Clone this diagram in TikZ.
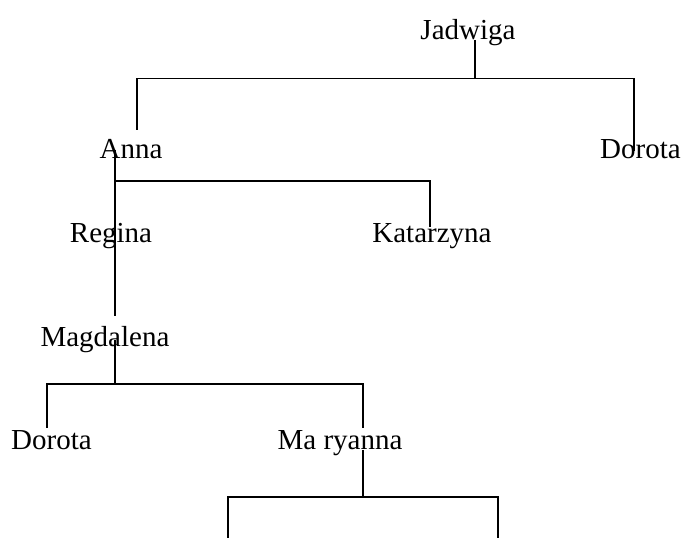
\documentclass[tikz,border=0pt]{standalone}
\usepackage{fontspec}
\setmainfont{Liberation Serif}
\usepackage{tikz}
\tikzstyle{person} = [
	anchor=base,
	inner sep=2pt,
	text=black,
	font=\fontsize{21.75}{26}\selectfont
]
\tikzstyle{branch} = [line width=1.1pt]

\begin{document}
\begin{tikzpicture}[x=0.75pt, y=-0.75pt]
    \useasboundingbox (0, 0) rectangle (686, 538);
    \node [person] at (468, 40) (jadwiga) {Jadwiga};
    \node [person] at (131, 159) (anna) {Anna};
    \node [person] at (640.5, 159) (dorota A) {Dorota};
    \node [person] at (111, 243) (regina) {Regina};
    \node [person] at (432, 243) (katarzyna) {Katarzyna};
    \node [person] at (105, 347) (magdalena) {Magdalena};
    \node [person] at (51.5, 450) (dorota B) {Dorota};
    \node [person] at (340, 450) (maryanna) {Ma ryanna};
    \coordinate (fork A) at (475, 78.5);
    \coordinate (A) at (137, 130);
    \coordinate (B) at (634, 151);
    \coordinate (fork B) at (115, 181);
    \coordinate (C) at (430, 227);
    \coordinate (D) at (115, 316);
    \coordinate (fork C) at (115, 384);
    \coordinate (E) at (47, 428);
    \coordinate (F) at (363, 428);
    \coordinate (fork D) at (363, 497);
    \coordinate (G) at (228, 538);
    \coordinate (H) at (498, 538);
    \draw [branch] (jadwiga.base -| fork A) to (fork A);
    \draw [branch] (A) |- (fork A) -| (B);
    \draw [branch] (anna.center -| fork B) to (D);
    \draw [branch] (fork B) -| (C);
    \draw [branch] (magdalena.center -| fork C) to (fork C);
    \draw [branch] (E) |- (fork C) -| (F);
    \draw [branch] (maryanna.base -| fork D) to (fork D);
    \draw [branch] (G) |- (fork D) -| (H);
\end{tikzpicture}
\end{document}
